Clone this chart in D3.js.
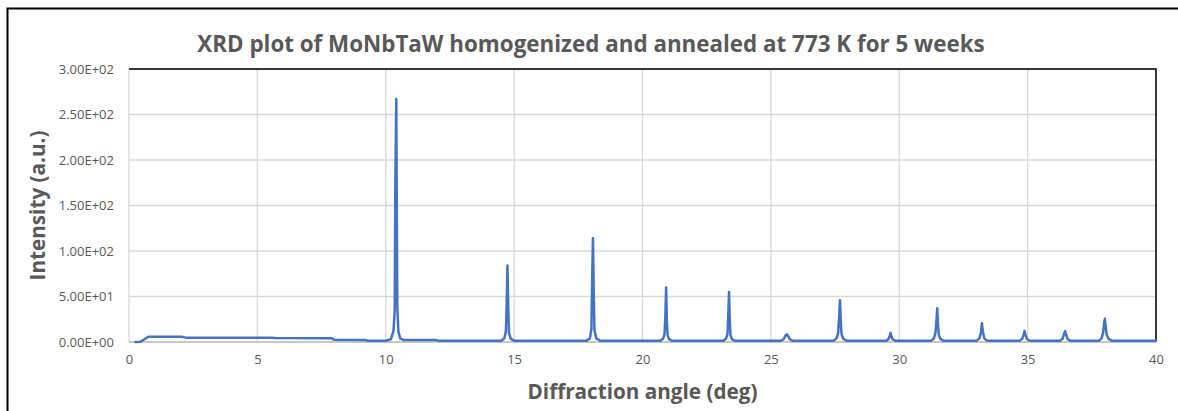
<!DOCTYPE html>
<html>
<head>
<meta charset="utf-8">
<script src="https://cdn.jsdelivr.net/npm/d3@7"></script>
<style>
  html, body { margin: 0; padding: 0; background: #fff; }
  svg { display: block; font-family: "Open Sans", "Liberation Sans", sans-serif; }
</style>
</head>
<body>
<div id="chart"></div>
<script>
var chartTitle = "XRD plot of MoNbTaW homogenized and annealed at 773 K for 5 weeks";
var xTitle = "Diffraction angle (deg)";
var yTitle = "Intensity (a.u.)";

var xTicks = [0, 5, 10, 15, 20, 25, 30, 35, 40];
var yTicks = [0, 50, 100, 150, 200, 250, 300];
var yTickLabels = ["0.00E+00", "5.00E+01", "1.00E+02", "1.50E+02", "2.00E+02", "2.50E+02", "3.00E+02"];

// low angle background + first peak
var lowAngle = [
  [0.25, 0], [0.45, 0.4], [0.6, 3], [0.75, 5.8], [2.05, 5.8], [2.2, 4.8],
  [5.5, 4.8], [5.7, 4.3], [7.9, 4.0], [8.0, 2.4], [9.2, 2.2], [9.3, 1.4],
  [10.0, 1.4], [10.2, 3], [10.3, 12], [10.35, 35], [10.37, 165], [10.41, 267],
  [10.43, 150], [10.45, 40], [10.49, 12], [10.56, 4], [10.7, 2.2],
  [11.95, 2.2], [12.05, 1.5]
];

// diffraction peaks after 12 deg
var peaks = [
  [14.5, 1.5], [14.62, 4], [14.68, 12], [14.71, 40], [14.74, 84], [14.77, 38], [14.8, 10], [14.87, 3.5], [15.0, 1.5],
  [17.82, 1.5], [17.95, 4], [18.01, 14], [18.04, 68], [18.07, 114], [18.1, 55], [18.13, 13], [18.2, 4], [18.35, 1.5],
  [20.7, 1.5], [20.8, 3.5], [20.86, 9], [20.89, 28], [20.92, 60], [20.95, 22], [20.98, 7], [21.04, 3], [21.15, 1.5],
  [23.15, 1.5], [23.25, 3.5], [23.31, 9], [23.34, 28], [23.37, 55], [23.4, 22], [23.43, 7], [23.49, 3], [23.6, 1.5],
  [25.4, 1.5], [25.5, 3], [25.57, 7], [25.62, 8.5], [25.67, 6.5], [25.74, 3], [25.85, 1.5],
  [27.45, 1.5], [27.56, 4], [27.62, 10], [27.66, 28], [27.69, 46], [27.72, 24], [27.75, 9], [27.82, 3.5], [27.95, 1.5],
  [29.5, 1.5], [29.58, 3], [29.63, 7], [29.66, 10], [29.69, 6.5], [29.74, 3], [29.84, 1.5],
  [31.25, 1.5], [31.35, 4], [31.41, 10], [31.45, 24], [31.48, 37], [31.51, 18], [31.54, 8], [31.6, 3.5], [31.72, 1.5],
  [33.02, 1.5], [33.12, 4], [33.18, 10], [33.22, 20.5], [33.26, 11], [33.31, 4], [33.42, 1.5],
  [34.7, 1.5], [34.79, 3.5], [34.85, 8.5], [34.88, 12], [34.92, 7.5], [34.98, 3], [35.08, 1.5],
  [36.27, 1.5], [36.36, 3.5], [36.42, 9], [36.46, 12], [36.5, 8], [36.56, 3], [36.66, 1.5],
  [37.78, 1.5], [37.88, 4], [37.94, 10], [37.98, 21], [38.01, 25.5], [38.04, 17], [38.08, 8], [38.15, 3.5], [38.28, 1.5],
  [40.0, 1.5]
];

var W = 1178, H = 411;
var margin = { left: 129, right: 22, top: 69, bottom: 69 };
var plotW = W - margin.left - margin.right;   // 1027
var plotH = H - margin.top - margin.bottom;   // 273

var svg = d3.select("#chart").append("svg")
  .attr("width", W)
  .attr("height", H);

// outer chart frame (left + top visible)
svg.append("path")
  .attr("d", "M7.5," + H + "V8.5H" + W)
  .attr("fill", "none")
  .attr("stroke", "#000")
  .attr("stroke-width", 2);

var x = d3.scaleLinear().domain([0, 40]).range([0, plotW]);
var y = d3.scaleLinear().domain([0, 300]).range([plotH, 0]);

var g = svg.append("g")
  .attr("transform", "translate(" + margin.left + "," + margin.top + ")");

// gridlines
g.append("g")
  .selectAll("line.vg")
  .data(xTicks)
  .join("line")
  .attr("x1", d => x(d)).attr("x2", d => x(d))
  .attr("y1", 0).attr("y2", plotH)
  .attr("stroke", "#d9d9d9")
  .attr("stroke-width", 1.3);

g.append("g")
  .selectAll("line.hg")
  .data(yTicks)
  .join("line")
  .attr("x1", 0).attr("x2", plotW)
  .attr("y1", d => y(d)).attr("y2", d => y(d))
  .attr("stroke", "#d9d9d9")
  .attr("stroke-width", 1.3);

// bottom axis line
g.append("line")
  .attr("x1", 0).attr("x2", plotW)
  .attr("y1", y(0)).attr("y2", y(0))
  .attr("stroke", "#bfbfbf")
  .attr("stroke-width", 1.3);

// black border on top and right of plot area
g.append("path")
  .attr("d", "M0,0H" + plotW + "V" + plotH)
  .attr("fill", "none")
  .attr("stroke", "#000")
  .attr("stroke-width", 1.5);

// axes labels via d3 axes
var axisX = d3.axisBottom(x).tickValues(xTicks).tickSize(0).tickPadding(13);
var axisY = d3.axisLeft(y).tickValues(yTicks).tickSize(0).tickPadding(15)
  .tickFormat((d, i) => yTickLabels[i]);

var gx = g.append("g").attr("transform", "translate(0," + plotH + ")").call(axisX);
var gy = g.append("g").call(axisY);
[gx, gy].forEach(function(a) {
  a.select(".domain").remove();
  a.selectAll("text")
    .attr("fill", "#595959")
    .style("font-size", "13px")
    .style("font-family", "'Open Sans', sans-serif");
});

// data line
var line = d3.line()
  .x(d => x(d[0]))
  .y(d => y(d[1]));

g.append("path")
  .datum(lowAngle.concat(peaks))
  .attr("fill", "none")
  .attr("stroke", "#4472c4")
  .attr("stroke-width", 2.5)
  .attr("stroke-linejoin", "round")
  .attr("stroke-linecap", "round")
  .attr("d", line);

// fit a text element to a target width by scaling its font size
function fitWidth(t, target) {
  var fs = parseFloat(t.style("font-size"));
  var w = t.node().getComputedTextLength();
  t.style("font-size", (fs * target / w).toFixed(2) + "px");
}

var title = svg.append("text")
  .attr("x", 591)
  .attr("y", 52)
  .attr("text-anchor", "middle")
  .attr("fill", "#595959")
  .style("font-weight", "bold")
  .style("font-size", "22px")
  .text(chartTitle);
fitWidth(title, 788);

var xt = svg.append("text")
  .attr("x", margin.left + plotW / 2)
  .attr("y", 399)
  .attr("text-anchor", "middle")
  .attr("fill", "#595959")
  .style("font-weight", "bold")
  .style("font-size", "18px")
  .text(xTitle);
fitWidth(xt, 230);

var yt = svg.append("text")
  .attr("transform", "translate(45," + (margin.top + plotH / 2) + ") rotate(-90)")
  .attr("text-anchor", "middle")
  .attr("fill", "#595959")
  .style("font-weight", "bold")
  .style("font-size", "18px")
  .text(yTitle);
fitWidth(yt, 150);
</script>
</body>
</html>
